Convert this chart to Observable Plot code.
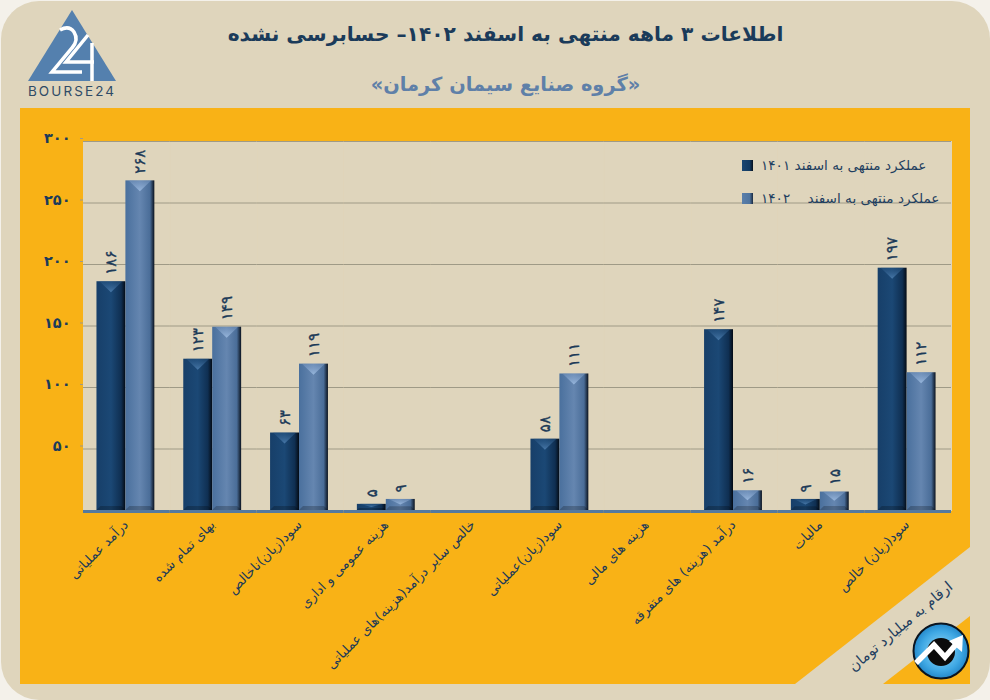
<!DOCTYPE html>
<html lang="fa">
<head>
<meta charset="utf-8">
<script src="https://cdn.jsdelivr.net/npm/d3@7"></script>
<script src="https://cdn.jsdelivr.net/npm/@observablehq/plot@0.6"></script>
<style>
html,body{margin:0;padding:0;background:#fff;}
#page{position:relative;width:990px;height:700px;overflow:hidden;background:#f4f1ea;font-family:"DejaVu Sans",sans-serif;}
#card{position:absolute;inset:1px 0 0 1px;background:#dfd5bc;border-radius:38px;}
h1,h2{position:absolute;left:0;width:1011px;margin:0;text-align:center;font-weight:700;direction:rtl;}
h1{top:22px;font-size:20.2px;color:#1b3b5a;}
h2{top:73px;font-size:19.4px;color:#5f80a8;}
#chart{position:absolute;left:20px;top:108px;width:950px;height:576px;background:#f9b216;}
#chart svg{display:block;}
.legend{position:absolute;left:742px;height:20px;color:#1f3f60;font-size:13.6px;line-height:20px;direction:ltr;white-space:pre;}
.legend i{position:absolute;left:0;top:4px;width:11px;height:11px;}
.legend span{position:absolute;left:19px;top:-1px;direction:rtl;white-space:pre;}
#deco{position:absolute;left:0;top:0;pointer-events:none;}
.ylab text{letter-spacing:3px;}
.vlab text{letter-spacing:1px;}
</style>
</head>
<body>
<div id="page">
<div id="card"></div>
<h1>اطلاعات ۳ ماهه منتهی به اسفند ۱۴۰۲– حسابرسی نشده</h1>
<h2>«گروه صنایع سیمان کرمان»</h2>
<div id="chart"></div>
<div class="legend" style="top:156px"><i style="background:linear-gradient(90deg,#1a4672,#123a62 70%,#06101c)"></i><span>عملکرد منتهی به اسفند ۱۴۰۱</span></div>
<div class="legend" style="top:189px"><i style="background:linear-gradient(90deg,#5a7fab,#4f749f 70%,#1a2a40)"></i><span>عملکرد منتهی به اسفند    ۱۴۰۲</span></div>
<svg id="deco" width="990" height="700">
  <polygon points="970,547 970,616 883,684 795,684" fill="#dfd5bc"/>
  <text transform="translate(901,627) rotate(-40)" text-anchor="middle" dominant-baseline="middle" font-family="DejaVu Sans" font-size="14.5" fill="#1f3f60">ارقام به میلیارد تومان</text>
  <defs>
    <radialGradient id="ball" cx="0.5" cy="0.5" r="0.6"><stop offset="0" stop-color="#9adcf8"/><stop offset=".6" stop-color="#3fa8e4"/><stop offset="1" stop-color="#1172b8"/></radialGradient>
  </defs>
  <circle cx="941" cy="651" r="27.5" fill="url(#ball)" stroke="#0b1520" stroke-width="2"/>
  <circle cx="941" cy="652" r="14" fill="#0b0b0b"/>
  <path d="M916,663 L934,645 L945,657 L958,642" fill="none" stroke="#fff" stroke-width="5.5"/>
  <polygon points="963,635 962,652 949,641" fill="#fff"/>
  <polygon points="72,10 116,81 28,81" fill="#5480ae"/>
  <path d="M60,30 Q69,25 74,32 Q79,40 72,48 L52,72 L82,72" fill="none" stroke="#fff" stroke-width="3.5"/>
  <path d="M88,35 L66,62 L94,62 M92,43 L92,81" fill="none" stroke="#fff" stroke-width="3.5"/>
  <text x="72" y="96" text-anchor="middle" font-family="Inter, DejaVu Sans" font-size="13.5" letter-spacing="2.1" fill="#2f4b66">BOURSE24</text>
</svg>
</div>
<script>
const categories = [
  "درآمد عملیاتی",
  "بهای تمام شده",
  "سود(زیان)ناخالص",
  "هزینه عمومی و اداری",
  "خالص سایر درآمد(هزینه)های عملیاتی",
  "سود(زیان)عملیاتی",
  "هزینه های مالی",
  "درآمد (هزینه) های متفرقه",
  "مالیات",
  "سود(زیان) خالص"
];
const values1401 = [186, 123, 63, 5, null, 58, null, 147, 9, 197];
const values1402 = [268, 149, 119, 9, null, 111, null, 16, 15, 112];
const seriesNames = ["1401", "1402"];
const yTicks = [50, 100, 150, 200, 250, 300];

const faDigits = "۰۱۲۳۴۵۶۷۸۹";
const fa = n => String(n).replace(/\d/g, d => faDigits[d]);

const rows = categories.flatMap((category, i) => [
  {category, series: seriesNames[0], value: values1401[i]},
  {category, series: seriesNames[1], value: values1402[i]}
]);

const beige = "#dfd5bc";
const dark = "#1c3a58";

// draws the bevel on each bar the library has placed
function bevel(index, scales, values, dims, ctx, next) {
  const g = next(index, scales, values, dims, ctx);
  g.querySelectorAll("rect").forEach(r => {
    const x = +r.getAttribute("x"), y = +r.getAttribute("y"),
          w = +r.getAttribute("width"), h = +r.getAttribute("height");
    const light = (r.getAttribute("fill") || "").includes("g1402") || r.style.fill.includes("g1402");
    const d = Math.min(11, h / 2), e = Math.min(4, h / 3);
    const add = (pts, fill, op) => {
      const p = document.createElementNS("http://www.w3.org/2000/svg", "polygon");
      p.setAttribute("points", pts.map(q => q.join(",")).join(" "));
      p.setAttribute("fill", fill);
      p.setAttribute("fill-opacity", op);
      p.setAttribute("stroke", "none");
      g.appendChild(p);
    };
    add([[x, y + h], [x + w, y + h], [x + w - e, y + h - e], [x + e, y + h - e]], "#000", 0.22);
    add([[x + 3, y], [x + w - 3, y], [x + w / 2, y + d]], light ? "url(#t1402)" : "url(#t1401)", 1);
  });
  return g;
}

const chart = Plot.plot({
  width: 950,
  height: 576,
  marginLeft: 63,
  marginRight: 19,
  marginTop: 33,
  marginBottom: 174,
  style: {background: "transparent", fontFamily: "DejaVu Sans", overflow: "visible"},
  fx: {domain: categories, padding: 0, round: false, label: null},
  x: {domain: seriesNames, padding: 0, paddingOuter: 0.5, round: false, axis: null},
  y: {domain: [0, 300], label: null},
  marks: [
    Plot.frame({fill: beige, stroke: beige}),
    Plot.ruleY(yTicks, {stroke: "#9f9a86", strokeWidth: 1}),
    Plot.barY(rows, {
      fx: "category", x: "series", y: "value", inset: 0, dx: -1,
      fill: d => d.series === "1401" ? "url(#g1401)" : "url(#g1402)",
      render: bevel
    }),
    Plot.ruleY([0], {stroke: "#557a9e", strokeWidth: 3, dy: 1}),
    Plot.text(rows, {
      fx: "category", x: "series", y: "value",
      text: d => d.value == null ? "" : fa(d.value),
      rotate: -90, textAnchor: "start", dy: -7, dx: -1,
      fontSize: 15, fontWeight: 400, fill: dark, stroke: dark, strokeWidth: 0.35,
      className: "vlab"
    }),
    Plot.axisY({
      ticks: yTicks, tickFormat: fa, tickSize: 3, tickPadding: 10,
      fontSize: 14.5, fontWeight: 700, label: null, stroke: "#9f9a86", color: "#1b3b5a", dy: -3,
      className: "ylab"
    }),
    Plot.axisFx({
      anchor: "bottom", tickSize: 0, tickRotate: -45, tickPadding: 12, dx: -1,
      fontSize: 13.2, label: null, color: dark, lineWidth: 100, textOverflow: null
    })
  ]
});

const ns = "http://www.w3.org/2000/svg";
const defs = document.createElementNS(ns, "defs");
defs.innerHTML = `
<linearGradient id="g1401" x1="0" y1="0" x2="1" y2="0">
  <stop offset="0" stop-color="#173f69"/><stop offset=".5" stop-color="#1b4875"/>
  <stop offset=".85" stop-color="#0f2f52"/><stop offset="1" stop-color="#040b14"/>
</linearGradient>
<linearGradient id="g1402" x1="0" y1="0" x2="1" y2="0">
  <stop offset="0" stop-color="#4a709d"/><stop offset=".5" stop-color="#6586b0"/>
  <stop offset=".85" stop-color="#4a6d98"/><stop offset="1" stop-color="#0a121e"/>
</linearGradient>
<linearGradient id="t1401" x1="0" y1="0" x2="0" y2="1">
  <stop offset="0" stop-color="#2a5886" stop-opacity=".4"/><stop offset="1" stop-color="#4878a8"/>
</linearGradient>
<linearGradient id="t1402" x1="0" y1="0" x2="0" y2="1">
  <stop offset="0" stop-color="#7f9ec6" stop-opacity=".4"/><stop offset="1" stop-color="#97b6dc"/>
</linearGradient>`;
chart.prepend(defs);
document.getElementById("chart").appendChild(chart);
</script>
</body>
</html>
